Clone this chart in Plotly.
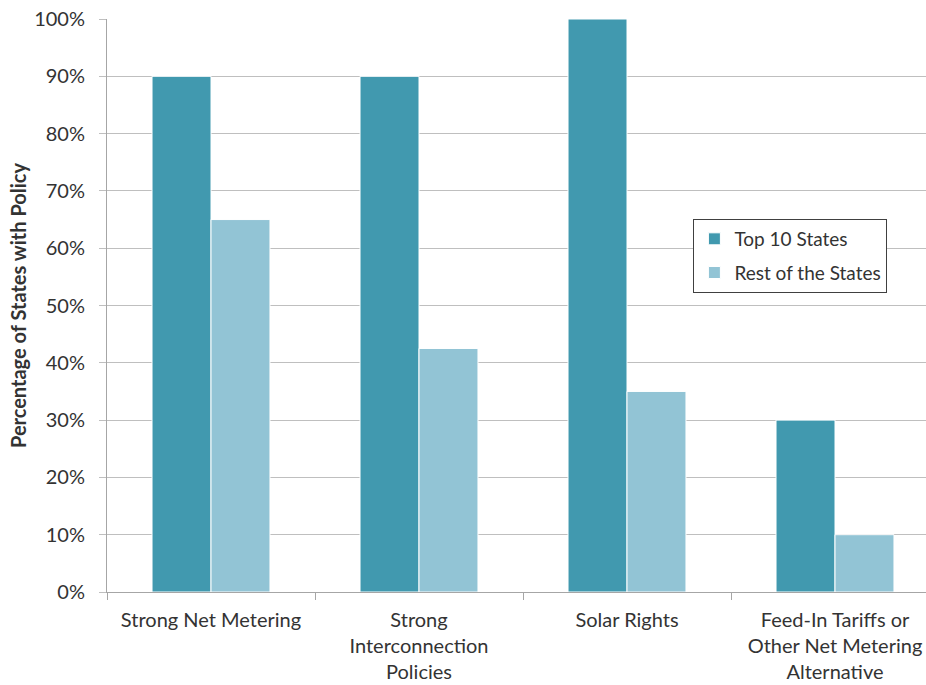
import plotly.graph_objects as go

categories = ["Strong Net Metering", "Strong<br>Interconnection<br>Policies", "Solar Rights",
              "Feed-In Tariffs or<br>Other Net Metering<br>Alternative"]
top10 = [90, 90, 100, 30]
rest = [65, 42.5, 35, 10]
y_ticks = [0, 10, 20, 30, 40, 50, 60, 70, 80, 90, 100]
y_tick_labels = [f"{v}%" for v in y_ticks]

FONT = "Lato, Open Sans, sans-serif"

fig = go.Figure()
fig.add_trace(go.Bar(x=categories, y=top10, name="Top 10 States", legendgroup="a",
                     marker=dict(color="#4199AF", line=dict(color="#FFFFFF", width=1))))
fig.add_trace(go.Bar(x=categories, y=rest, name="Rest of the States", legendgroup="b",
                     marker=dict(color="#92C4D5", line=dict(color="#FFFFFF", width=1))))

fig.update_layout(
    width=926, height=685,
    margin=dict(l=107, r=0, t=19, b=93),
    plot_bgcolor="white", paper_bgcolor="white",
    barmode="group", bargap=0.433, bargroupgap=0,
    font=dict(family=FONT, size=20, color="#333333"),
    legend=dict(x=0.716, y=0.651, xanchor="left", yanchor="top",
                bordercolor="#404040", borderwidth=1, bgcolor="white",
                font=dict(size=19), itemwidth=30, tracegroupgap=6),
    xaxis=dict(range=[-0.5, 3.4375], showgrid=False, showline=True, linecolor="#A6A6A6",
               linewidth=1, ticks="outside", tickson="boundaries", ticklen=7,
               tickcolor="#A6A6A6", tickfont=dict(size=20), ticklabelstandoff=10),
    yaxis=dict(range=[0, 100], tickvals=y_ticks, ticktext=y_tick_labels,
               showgrid=True, gridcolor="#BFBFBF", gridwidth=1, showline=True,
               linecolor="#A6A6A6", ticks="outside", ticklen=7, tickcolor="#BFBFBF",
               tickfont=dict(size=20), zeroline=False, ticklabelstandoff=10,
               title=dict(text="<b>Percentage of States with Policy</b>",
                          font=dict(size=20), standoff=2)),
)

fig.write_html("out.html", config={"displayModeBar": False},
               post_script="document.body.style.margin='0';document.body.style.overflow='hidden';")
